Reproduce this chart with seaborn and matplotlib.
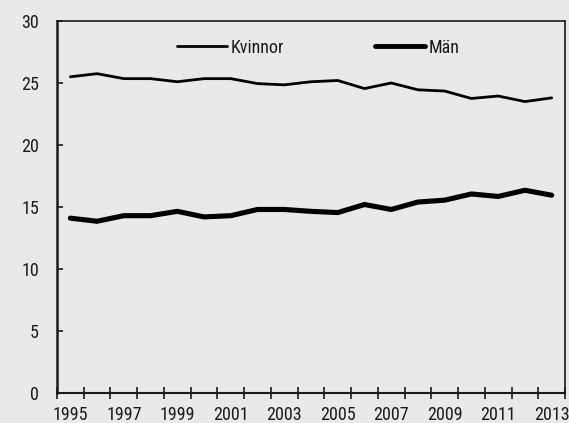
import matplotlib
matplotlib.use("Agg")
import matplotlib.pyplot as plt
import seaborn as sns
import pandas as pd
from matplotlib.ticker import FixedLocator, NullFormatter, FixedFormatter
from matplotlib.lines import Line2D

years = list(range(1995, 2014))
kvinnor = [25.5, 25.75, 25.35, 25.35, 25.1, 25.35, 25.35, 24.95, 24.85, 25.1,
           25.2, 24.55, 25.0, 24.45, 24.35, 23.75, 23.95, 23.5, 23.8]
man = [14.1, 13.85, 14.3, 14.3, 14.65, 14.2, 14.3, 14.8, 14.8, 14.65,
       14.55, 15.2, 14.8, 15.4, 15.55, 16.05, 15.85, 16.35, 15.95]
series_names = ["Kvinnor", "Män"]
y_ticks = [0, 5, 10, 15, 20, 25, 30]
x_labels = [str(y) for y in range(1995, 2014, 2)]

sns.set_theme(style="white")
plt.rcParams['font.family'] = ['Roboto Condensed', 'DejaVu Sans']
bg = '#e9e9e9'
ink = '#1a1a1a'
fs = 13

df = pd.DataFrame({
    "År": years * 2,
    "Värde": kvinnor + man,
    "Kön": [series_names[0]] * len(years) + [series_names[1]] * len(years),
})

fig = plt.figure(figsize=(5.69, 4.23), dpi=100, facecolor=bg)
ax = fig.add_axes([0.1002, 0.0709, 0.8928, 0.8795])
ax.set_facecolor(bg)

sns.lineplot(data=df, x="År", y="Värde", hue="Kön", size="Kön",
             sizes={series_names[0]: 2.0, series_names[1]: 3.7},
             palette={series_names[0]: "black", series_names[1]: "black"},
             ax=ax, legend=False)
for ln in ax.get_lines():
    ln.set_solid_capstyle('round')
    ln.set_solid_joinstyle('round')

ax.set_xlim(1994.5, 2013.5)
ax.set_ylim(0, 30)
ax.set_xlabel("")
ax.set_ylabel("")

ax.xaxis.set_major_locator(FixedLocator([1994.5 + k for k in range(20)]))
ax.xaxis.set_major_formatter(NullFormatter())
ax.xaxis.set_minor_locator(FixedLocator(list(range(1995, 2014, 2))))
ax.xaxis.set_minor_formatter(FixedFormatter(x_labels))
ax.tick_params(axis='x', which='major', direction='inout', length=9, width=1.2,
               color=ink, bottom=True)
ax.tick_params(axis='x', which='minor', length=0, pad=9.5, labelsize=fs,
               labelcolor=ink)

ax.set_yticks(y_ticks)
ax.tick_params(axis='y', which='major', direction='in', length=4.5, width=1.2,
               color=ink, left=True, pad=13, labelsize=fs, labelcolor=ink)

for side, sp in ax.spines.items():
    sp.set_visible(True)
    sp.set_color(ink)
    sp.set_linewidth(1.2)
ax.spines['left'].set_linewidth(1.8)
ax.spines['bottom'].set_linewidth(1.5)

handles = [Line2D([], [], color='black', lw=2.0, solid_capstyle='round'),
           Line2D([], [], color='black', lw=3.5, solid_capstyle='round')]
leg = ax.legend(handles, series_names, ncol=2, frameon=False,
                loc='center left', bbox_to_anchor=(0.236, 0.928),
                borderaxespad=0, borderpad=0,
                handlelength=2.8, handletextpad=0.2, columnspacing=5.0,
                fontsize=fs)
for t in leg.get_texts():
    t.set_color(ink)

fig.savefig("out.png", dpi=100, facecolor=bg)
